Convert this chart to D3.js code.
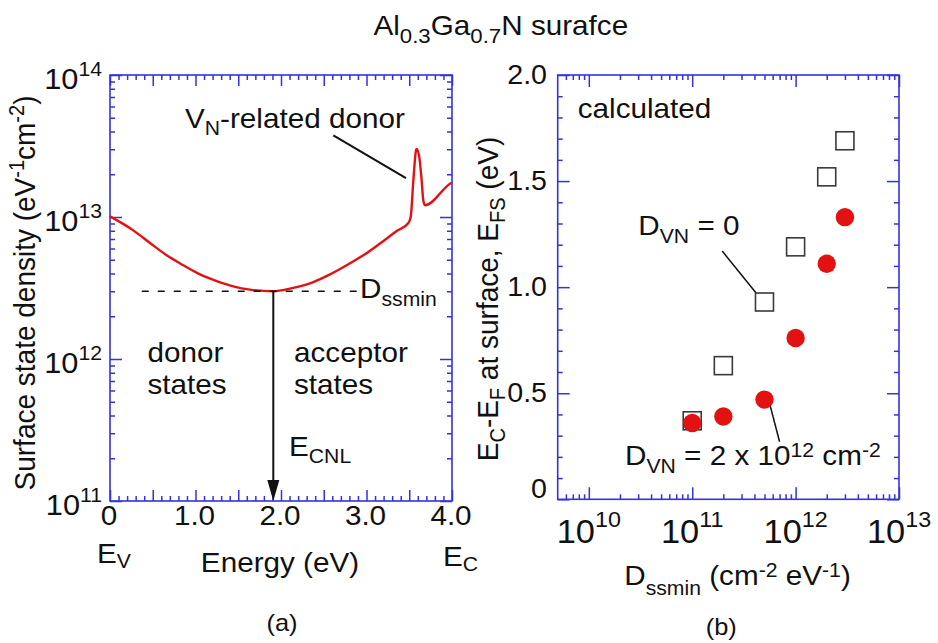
<!DOCTYPE html>
<html>
<head>
<meta charset="utf-8">
<script src="https://cdn.jsdelivr.net/npm/d3@7/dist/d3.min.js"></script>
<style>
  html, body { margin: 0; padding: 0; background: #fff; }
  svg { display: block; }
  text { font-family: "Liberation Sans", Arial, Helvetica, sans-serif; fill: #111; }
</style>
</head>
<body>
<div id="chart"></div>
<script>
// ---- (a) surface state density vs. energy ----
const energy = [0, 0.273, 0.468, 0.663, 0.858, 1.053, 1.248, 1.442, 1.637, 1.91, 2.105, 2.183, 2.378, 2.573,
  2.768, 2.963, 3.158, 3.353, 3.49, 3.517, 3.548, 3.579, 3.587, 3.618, 3.645, 3.664, 3.684, 3.985, 4.0];
const density = [1.01e13, 8.05e12, 6.56e12, 5.37e12, 4.57e12, 3.94e12, 3.54e12, 3.25e12, 3.08e12, 3.0e12, 3.13e12,
  3.21e12, 3.48e12, 3.94e12, 4.57e12, 5.37e12, 6.5e12, 7.96e12, 9.08e12, 1.0e13, 1.81e13, 2.95e13, 3.02e13,
  2.63e13, 1.81e13, 1.31e13, 1.21e13, 1.73e13, 1.75e13];
const dssMin = 3.0e12;       // minimum surface state density
const eCNL = 1.91;           // charge neutrality level (eV)
const energyTicks = [0, 1, 2, 3, 4];
const densityDecades = [11, 12, 13, 14];

// ---- (b) surface Fermi level vs. Dssmin ----
const dssminValues = [1e11, 2e11, 5e11, 1e12, 2e12, 3e12];
const efsNoDonor = [0.37, 0.63, 0.93, 1.19, 1.52, 1.69];    // D_VN = 0
const efsWithDonor = [0.36, 0.39, 0.47, 0.76, 1.11, 1.33];  // D_VN = 2e12 cm^-2
const dssDecades = [10, 11, 12, 13];
const efsTicks = [0, 0.5, 1.0, 1.5, 2.0];

const W = 938, H = 643;
const AXIS = "#3333dd";
const RED = "#e31212";
const SX = 1.06;   // slight horizontal widening of the lettering

const svg = d3.select("#chart").append("svg").attr("width", W).attr("height", H);
svg.append("rect").attr("width", W).attr("height", H).attr("fill", "#fff");

// Text with sub/superscript pieces. parts: [text, kind, shift]
function rich(x, y, parts, o = {}) {
  const size = o.size || 28, small = o.small || 20;
  let tr = `translate(${x},${y}) scale(${SX},1)`;
  if (o.rotate) tr += ` rotate(${o.rotate})`;
  const t = svg.append("g").attr("transform", tr).append("text")
    .attr("text-anchor", o.anchor || "start").attr("font-size", size);
  let off = 0;
  parts.forEach(p => {
    const [str, kind, shift] = Array.isArray(p) ? p : [p];
    let target = 0;
    if (kind === "sub") target = shift != null ? shift : 7;
    if (kind === "sup") target = shift != null ? -shift : -12;
    const ts = t.append("tspan").text(str).attr("font-size", kind ? small : size);
    if (target !== off) { ts.attr("dy", target - off); off = target; }
  });
  return t;
}

function styleAxis(g) {
  g.select(".domain").remove();
  g.selectAll(".tick line").attr("stroke", AXIS).attr("stroke-width", 1.5);
}

// ================= panel (a) =================
const xA = d3.scaleLinear().domain([0, 4]).range([110, 452]);
const yA = d3.scaleLog().domain([1e11, 1e14]).range([501, 75]);

const eMajor = d3.range(0, 4.0001, 0.5);
const eMinor = d3.range(0, 4.0001, 0.1).filter(v => Math.abs(v * 2 - Math.round(v * 2)) > 1e-6);
const dMajor = densityDecades.map(d => Math.pow(10, d));
const dMinor = [];
densityDecades.slice(0, -1).forEach(d => { for (let m = 2; m <= 9; m++) dMinor.push(m * Math.pow(10, d)); });

const gA = svg.append("g");
[[d3.axisBottom, yA.range()[0]], [d3.axisTop, yA.range()[1]]].forEach(([ax, y]) => {
  gA.append("g").attr("transform", `translate(0,${y})`)
    .call(ax(xA).tickValues(eMajor).tickSize(-11).tickFormat("")).call(styleAxis);
  gA.append("g").attr("transform", `translate(0,${y})`)
    .call(ax(xA).tickValues(eMinor).tickSize(-5).tickFormat("")).call(styleAxis);
});
[[d3.axisLeft, xA.range()[0]], [d3.axisRight, xA.range()[1]]].forEach(([ax, x]) => {
  gA.append("g").attr("transform", `translate(${x},0)`)
    .call(ax(yA).tickValues(dMajor).tickSize(-12).tickFormat("")).call(styleAxis);
  gA.append("g").attr("transform", `translate(${x},0)`)
    .call(ax(yA).tickValues(dMinor).tickSize(-5).tickFormat("")).call(styleAxis);
});
gA.append("rect").attr("x", 110).attr("y", 75).attr("width", 342).attr("height", 426)
  .attr("fill", "none").attr("stroke", AXIS).attr("stroke-width", 1.6);

// curve
const lineA = d3.line().x((d, i) => xA(energy[i])).y((d, i) => yA(density[i])).curve(d3.curveMonotoneX);
gA.append("path").datum(density).attr("d", lineA).attr("fill", "none")
  .attr("stroke", RED).attr("stroke-width", 2.4);

// Dssmin dashed level
gA.append("line").attr("x1", xA(0.371)).attr("x2", xA(2.924)).attr("y1", yA(dssMin)).attr("y2", yA(dssMin))
  .attr("stroke", "#111").attr("stroke-width", 1.5).attr("stroke-dasharray", "7,9");

// ECNL arrow
const ax0 = xA(eCNL), ayTop = yA(dssMin), ayBot = yA(1e11);
gA.append("line").attr("x1", ax0).attr("x2", ax0).attr("y1", ayTop).attr("y2", ayBot - 18)
  .attr("stroke", "#111").attr("stroke-width", 2);
gA.append("path").attr("d", `M${ax0 - 6},${ayBot - 21} L${ax0 + 6},${ayBot - 21} L${ax0},${ayBot} Z`)
  .attr("fill", "#111");

// VN donor leader
gA.append("line").attr("x1", xA(2.612)).attr("y1", yA(3.76e13)).attr("x2", xA(3.462)).attr("y2", yA(1.88e13))
  .attr("stroke", "#111").attr("stroke-width", 2);

// tick labels (a)
energyTicks.forEach(v => rich(xA(v) - 1, 525, [v === 0 ? "0" : v.toFixed(1)], { anchor: "middle" }));
densityDecades.forEach(d => rich(102, yA(Math.pow(10, d)) + 13.5, ["10", [String(d), "sup", 12.6]],
  { anchor: "end", size: 29 }));

rich(97, 563, ["E", ["V", "sub", 5]]);
rich(280, 572, ["Energy (eV)"], { anchor: "middle" });
rich(443, 566, ["E", ["C", "sub", 5]]);
rich(35, 293, ["Surface state density (eV", ["-1", "sup", 10], "cm", ["-2", "sup", 10], ")"],
  { anchor: "middle", rotate: -90 });
rich(185, 128, ["V", ["N", "sub", 7], "-related donor"]);
rich(360, 298, ["D", ["ssmin", "sub", 8]]);
rich(147.5, 361.5, ["donor"]);
rich(147.5, 394, ["states"]);
rich(294, 361.5, ["acceptor"]);
rich(294, 394, ["states"]);
rich(289, 456, ["E", ["CNL", "sub", 7]]);
rich(282, 631, ["(a)"], { anchor: "middle", size: 24 });

// ================= panel (b) =================
const xB = d3.scaleLog().domain([5e9, 1e13]).range([557.7, 899]);
const yB = d3.scaleLinear().domain([0, 2]).range([499.3, 75]);

const sMajor = dssDecades.map(d => Math.pow(10, d));
const sMinor = [6e9, 7e9, 8e9, 9e9];
dssDecades.slice(0, -1).forEach(d => { for (let m = 2; m <= 9; m++) sMinor.push(m * Math.pow(10, d)); });
const fMajor = d3.range(0, 2.0001, 0.5);
const fMinor = d3.range(0, 2.0001, 0.1).filter(v => Math.abs(v * 2 - Math.round(v * 2)) > 1e-6);

const gB = svg.append("g");
[[d3.axisBottom, yB.range()[0]], [d3.axisTop, yB.range()[1]]].forEach(([ax, y]) => {
  gB.append("g").attr("transform", `translate(0,${y})`)
    .call(ax(xB).tickValues(sMajor).tickSize(-12).tickFormat("")).call(styleAxis);
  gB.append("g").attr("transform", `translate(0,${y})`)
    .call(ax(xB).tickValues(sMinor).tickSize(-5).tickFormat("")).call(styleAxis);
});
[[d3.axisLeft, xB.range()[0]], [d3.axisRight, xB.range()[1]]].forEach(([ax, x]) => {
  gB.append("g").attr("transform", `translate(${x},0)`)
    .call(ax(yB).tickValues(fMajor).tickSize(-12).tickFormat("")).call(styleAxis);
  gB.append("g").attr("transform", `translate(${x},0)`)
    .call(ax(yB).tickValues(fMinor).tickSize(-5).tickFormat("")).call(styleAxis);
});
gB.append("rect").attr("x", 557.7).attr("y", 75).attr("width", 899 - 557.7).attr("height", 499.3 - 75)
  .attr("fill", "none").attr("stroke", AXIS).attr("stroke-width", 1.6);

// leaders
gB.append("line").attr("x1", xB(1.95e11)).attr("y1", yB(1.17)).attr("x2", xB(4.17e11)).attr("y2", yB(0.971))
  .attr("stroke", "#111").attr("stroke-width", 1.5);
gB.append("line").attr("x1", xB(5.6e11)).attr("y1", yB(0.452)).attr("x2", xB(7.0e11)).attr("y2", yB(0.271))
  .attr("stroke", "#111").attr("stroke-width", 1.5);

// markers
const S = 18;
gB.selectAll("rect.sq").data(efsNoDonor).join("rect").attr("class", "sq")
  .attr("x", (d, i) => xB(dssminValues[i]) - S / 2).attr("y", d => yB(d) - S / 2)
  .attr("width", S).attr("height", S).attr("fill", "none").attr("stroke", "#3a3a3a").attr("stroke-width", 1.6);
gB.selectAll("circle.dot").data(efsWithDonor).join("circle").attr("class", "dot")
  .attr("cx", (d, i) => xB(dssminValues[i])).attr("cy", d => yB(d)).attr("r", 9.2).attr("fill", RED);

// tick labels (b)
efsTicks.forEach(v => rich(547, yB(v) + (v === 0 ? -1.5 : 9), [v === 0 ? "0" : v.toFixed(1)],
  { anchor: "end", size: 27 }));
dssDecades.forEach(d => rich(xB(Math.pow(10, d)), 542.7, ["10", [String(d), "sup", 16]],
  { anchor: "middle", size: 32.5, small: 22 }));

rich(737.5, 585, ["D", ["ssmin", "sub", 10], " (cm", ["-2", "sup", 8.3], " eV", ["-1", "sup", 8.3], ")"],
  { anchor: "middle" });
rich(498, 299, ["E", ["C", "sub", 7], "-E", ["F", "sub", 7], " at surface, E", ["FS", "sub", 7], " (eV)"],
  { anchor: "middle", rotate: -90 });
rich(577.7, 118.3, ["calculated"]);
rich(638.3, 235, ["D", ["VN", "sub", 8], " = 0"]);
rich(625, 465, ["D", ["VN", "sub", 8], " = 2 x 10", ["12", "sup", 8.3], " cm", ["-2", "sup", 8.3]]);
rich(721.3, 635, ["(b)"], { anchor: "middle", size: 24 });

// ================= title =================
rich(500.8, 35, ["Al", ["0.3", "sub", 8], "Ga", ["0.7", "sub", 8], "N surafce"], { anchor: "middle", small: 21 });
</script>
</body>
</html>
